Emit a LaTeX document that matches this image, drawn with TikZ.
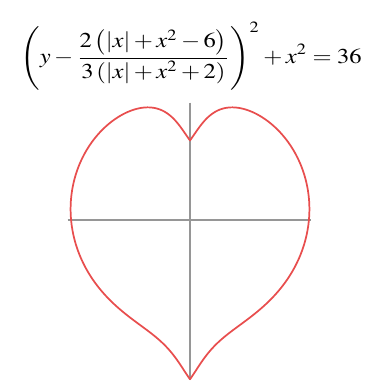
\documentclass[tikz,border=0pt]{standalone}
\usepackage{mathptmx}
\usepackage{graphicx}
\definecolor{heartred}{RGB}{232,78,78}
\definecolor{axisgray}{RGB}{150,150,150}
\tikzset{
  axisline/.style={draw=axisgray, line width=0.9pt},
  heartline/.style={draw=heartred, line width=1.3pt, line join=round},
}
\begin{document}
\begin{tikzpicture}[x=0.75pt, y=-0.75pt]
\useasboundingbox (0,0) rectangle (373,383);
\node[inner sep=0pt] (eq) at (191,56) {\resizebox*{256pt}{51pt}{$\displaystyle\left(y-\frac{2\left(|x|+x^2-6\right)}{3\left(|x|+x^2+2\right)}\right)^{2}+x^2=36$}};
\begin{scope}[shift={(190,220)}, x=14.925pt, y=14.925pt]
  \coordinate (xl) at (-6.15,0);
  \coordinate (xr) at (6.1,0);
  \coordinate (yt) at (0,5.9);
  \coordinate (yb) at (0,-8.05);
  \draw[axisline] (xl) -- (xr);
  \draw[axisline] (yt) -- (yb);
  \draw[heartline] plot[domain=0:360, samples=721] 
    ({6*sin(\x)}, {2*(abs(6*sin(\x))+36*sin(\x)^2-6)/(3*(abs(6*sin(\x))+36*sin(\x)^2+2)) + 6*cos(\x)}) -- cycle;
\end{scope}
\end{tikzpicture}
\end{document}
